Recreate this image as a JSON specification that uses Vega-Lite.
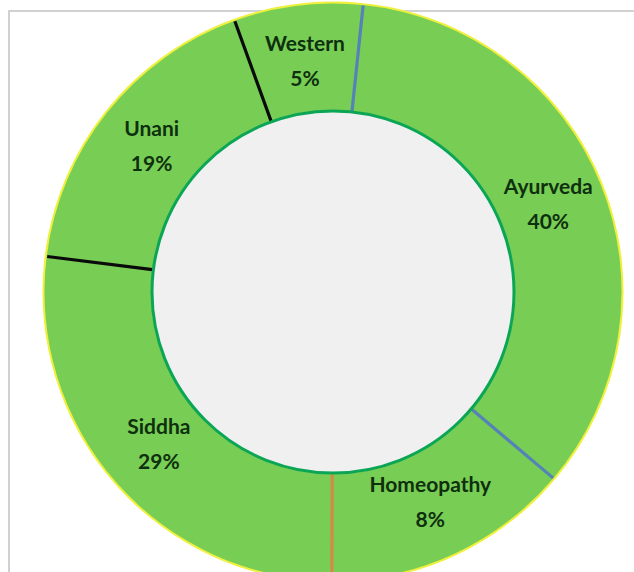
{
  "$schema": "https://vega.github.io/schema/vega-lite/v6.json",
  "width": 648,
  "height": 562,
  "autosize": {"type": "none"},
  "padding": {"left": 9, "top": 11, "right": 0, "bottom": 0},
  "background": "white",
  "datasets": {
    "shares": [
      {"ord": 1, "category": "Ayurveda", "share": 34.5, "pct": 0.40},
      {"ord": 2, "category": "Homeopathy", "share": 13.9, "pct": 0.08},
      {"ord": 3, "category": "Siddha", "share": 26.9, "pct": 0.29},
      {"ord": 4, "category": "Unani", "share": 17.5, "pct": 0.19},
      {"ord": 5, "category": "Western", "share": 7.2, "pct": 0.05}
    ]
  },
  "data": {"name": "shares"},
  "layer": [
    {
      "data": {"values": [{}]},
      "mark": {"type": "rect", "filled": false, "stroke": "#c2c2c2", "strokeWidth": 1.5},
      "encoding": {}
    },
    {
      "data": {"values": [{}]},
      "mark": {"type": "arc", "theta": 0, "theta2": 6.2832, "outerRadius": 290.5, "innerRadius": 0, "fill": "#eef03c"},
      "encoding": {}
    },
    {
      "mark": {"type": "arc", "outerRadius": 288.5, "innerRadius": 182, "fill": "#78cd55"},
      "encoding": {
        "theta": {"field": "share", "type": "quantitative", "stack": true, "scale": {"domain": [0, 100], "range": [0.1047, 6.3879]}},
        "order": {"field": "ord", "type": "quantitative"}
      }
    },
    {
      "transform": [{"stack": "share", "groupby": [], "sort": [{"field": "ord", "order": "ascending"}], "as": ["s0", "s1"]}],
      "mark": {"type": "arc", "outerRadius": 288, "innerRadius": 182, "fillOpacity": 0, "strokeWidth": 3.2},
      "encoding": {
        "theta": {"field": "s0", "type": "quantitative"},
        "theta2": {"field": "s0"},
        "stroke": {
          "field": "category", "type": "nominal", "legend": null,
          "scale": {"domain": ["Ayurveda", "Homeopathy", "Siddha", "Unani", "Western"], "range": ["#5583b8", "#5583b8", "#d48a45", "#0a0a0a", "#0a0a0a"]}
        }
      }
    },
    {
      "data": {"values": [{}]},
      "mark": {"type": "arc", "theta": 0, "theta2": 6.2832, "outerRadius": 181, "innerRadius": 0, "fill": "#f0f0f0", "stroke": "#0aa555", "strokeWidth": 3},
      "encoding": {}
    },
    {
      "mark": {"type": "text", "radius": 232, "dy": -17, "font": "Lato", "fontWeight": "bold", "fontSize": 21, "fill": "#0e300e", "align": "center", "baseline": "middle"},
      "encoding": {
        "theta": {"field": "share", "type": "quantitative", "stack": true},
        "order": {"field": "ord", "type": "quantitative"},
        "text": {"field": "category", "type": "nominal"}
      }
    },
    {
      "mark": {"type": "text", "radius": 232, "dy": 18, "font": "Lato", "fontWeight": "bold", "fontSize": 21, "fill": "#0e300e", "align": "center", "baseline": "middle"},
      "encoding": {
        "theta": {"field": "share", "type": "quantitative", "stack": true},
        "order": {"field": "ord", "type": "quantitative"},
        "text": {"field": "pct", "type": "quantitative", "format": ".0%"}
      }
    }
  ]
}
